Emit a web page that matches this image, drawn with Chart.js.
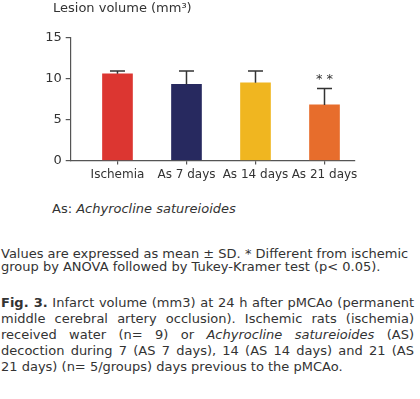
<!DOCTYPE html>
<html>
<head>
<meta charset="utf-8">
<script src="https://cdn.jsdelivr.net/npm/chart.js"></script>
<style>
  body { margin: 0; background: #fff; font-family: "DejaVu Sans", sans-serif; color: #333; }
  #wrap { position: relative; width: 420px; height: 185px; }
  #titulo { position: absolute; left: 53px; top: 0; font-size: 13px; line-height: 16px; white-space: nowrap; }
  .note { margin-top: 16px; font-size: 13px; line-height: 16px; padding-left: 52px; }
  .stats { margin-top: 30px; font-size: 13px; line-height: 13.3px; padding-left: 1px; width: 413px; white-space: nowrap; }
  .caption { margin-top: 21px; font-size: 13px; line-height: 16px; padding-left: 1px; width: 413px; }
  .caption span { display: block; white-space: nowrap; }
  .caption span.j { text-align: justify; text-align-last: justify; }
</style>
</head>
<body>
<div id="wrap"><canvas id="myChart"></canvas><div id="titulo">Lesion volume (mm³)</div></div>
<div class="note">As: <i>Achyrocline satureioides</i></div>
<div class="stats">Values are expressed as mean ± SD. * Different from ischemic<br>group by ANOVA followed by Tukey-Kramer test (p&lt; 0.05).</div>
<div class="caption">
  <span class="j"><b>Fig. 3.</b> Infarct volume (mm3) at 24 h after pMCAo (permanent</span>
  <span class="j">middle cerebral artery occlusion). Ischemic rats (ischemia)</span>
  <span class="j">received water (n= 9) or <i>Achyrocline satureioides</i> (AS)</span>
  <span class="j">decoction during 7 (AS 7 days), 14 (AS 14 days) and 21 (AS</span>
  <span>21 days) (n= 5/groups) days previous to the pMCAo.</span>
</div>
<script>
const grupos = ["Ischemia", "As 7 days", "As 14 days", "As 21 days"];
const medias = [10.6, 9.3, 9.5, 6.8];
const desvios = [0.35, 1.65, 1.45, 2.0];
const marcas = ["", "", "", "* *"];
const yTicks = [0, 5, 10, 15];
const colores = ["#dc3631", "#27295f", "#f0b620", "#e76d2c"];

Chart.defaults.font.family = "'DejaVu Sans', sans-serif";
Chart.defaults.color = "#333";

// barras de error (solo hacia arriba) + asteriscos
const barrasError = {
  id: "barrasError",
  afterDatasetsDraw(chart) {
    const { ctx, scales: { y } } = chart;
    const meta = chart.getDatasetMeta(0);
    ctx.save();
    ctx.strokeStyle = "#333";
    ctx.lineWidth = 1.5;
    ctx.fillStyle = "#333";
    ctx.font = "13px 'DejaVu Sans'";
    ctx.textAlign = "center";
    ctx.textBaseline = "middle";
    meta.data.forEach((bar, i) => {
      const top = y.getPixelForValue(medias[i] + desvios[i]);
      ctx.beginPath();
      ctx.moveTo(bar.x, bar.y);
      ctx.lineTo(bar.x, top);
      ctx.moveTo(bar.x - 7.5, top);
      ctx.lineTo(bar.x + 7.5, top);
      ctx.stroke();
      if (marcas[i]) ctx.fillText(marcas[i], bar.x, top - 9);
    });
    ctx.restore();
  }
};

const ctx = document.getElementById("myChart").getContext("2d");
new Chart(ctx, {
  type: "bar",
  data: {
    datasets: [{
      data: grupos.map((g, i) => ({ x: i, y: medias[i] })),
      backgroundColor: colores,
      barThickness: 30
    }]
  },
  options: {
    responsive: true,
    maintainAspectRatio: false,
    animation: false,
    devicePixelRatio: 1,
    layout: { padding: { left: 40, right: 65, top: 37.7, bottom: 0 } },
    plugins: {
      legend: { display: false },
      tooltip: { enabled: false },
      title: { display: false }
    },
    scales: {
      x: {
        type: "linear",
        offset: false,
        min: -0.678,
        max: 3.442,
        afterBuildTicks: (s) => { s.ticks = grupos.map((g, i) => ({ value: i })); },
        ticks: {
          callback: (v) => grupos[v],
          font: { size: 12 },
          color: "#333",
          padding: 3,
          maxRotation: 0,
          autoSkip: false
        },
        grid: { offset: false, drawOnChartArea: false, drawTicks: true, tickLength: 4, color: "#555", lineWidth: 1.2 },
        border: { display: true, color: "#555", width: 1.2 }
      },
      y: {
        min: 0,
        max: 15,
        afterBuildTicks: (s) => { s.ticks = yTicks.map((v) => ({ value: v })); },
        afterFit: (s) => { s.width = 30.7; },
        ticks: { font: { size: 13 }, color: "#333", padding: 4 },
        grid: { drawOnChartArea: false, drawTicks: true, tickLength: 5, color: "#555", lineWidth: 1.2 },
        border: { display: true, color: "#555", width: 1.2 }
      }
    }
  },
  plugins: [barrasError]
});
</script>
</body>
</html>
